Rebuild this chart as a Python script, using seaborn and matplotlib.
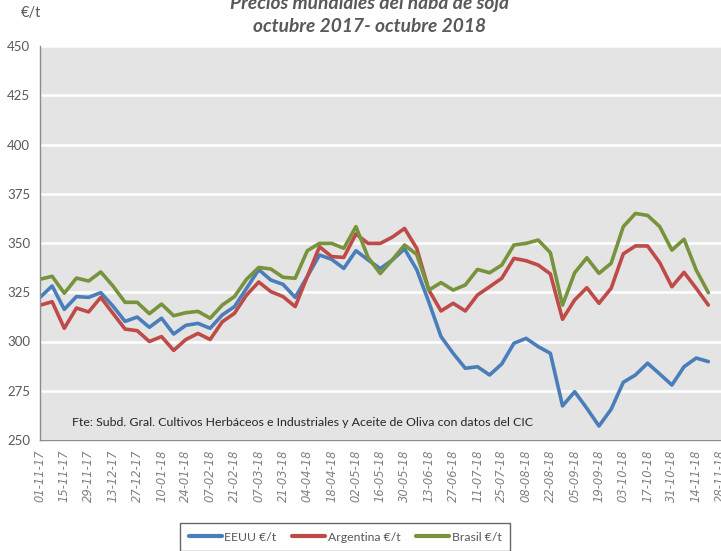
import numpy as np
import pandas as pd
import matplotlib
matplotlib.use("Agg")
import matplotlib.pyplot as plt
import matplotlib.dates as mdates
import seaborn as sns

# Weekly quotations (€/t), from 01-11-2017 to 21-11-2018
start_date = "2017-11-01"
n_weeks = 56

eeuu = [322.4, 328.2, 316.3, 322.8, 322.4, 324.8, 318.0, 310.2, 312.4, 307.2,
        311.8, 303.8, 308.2, 309.2, 306.7, 313.5, 317.7, 327.0, 336.5, 331.2,
        329.0, 322.4, 333.0, 343.9, 341.7, 337.1, 346.1, 341.4, 337.0, 341.4,
        347.0, 336.5, 320.0, 302.5, 294.0, 286.4, 287.2, 283.0, 288.6, 299.1,
        301.6, 297.4, 294.0, 267.3, 274.5, 266.1, 257.1, 265.6, 279.3, 283.0,
        289.0, 283.5, 277.9, 287.2, 291.6, 289.8]

argentina = [318.4, 320.2, 306.7, 317.0, 315.0, 322.4, 314.3, 306.3, 305.5, 300.0,
             302.5, 295.5, 301.0, 304.1, 301.0, 310.0, 314.3, 323.6, 330.2, 325.3,
             322.8, 317.7, 333.0, 348.1, 343.1, 342.7, 354.6, 349.8, 349.8, 353.0,
             357.4, 347.3, 326.1, 315.5, 319.4, 315.5, 323.6, 327.8, 332.1, 342.2,
             341.0, 338.8, 334.3, 311.3, 321.1, 327.3, 319.4, 327.0, 344.5, 348.5,
             348.5, 340.0, 327.8, 335.1, 327.0, 318.5]

brasil = [331.6, 333.1, 324.5, 332.2, 330.7, 335.3, 328.2, 319.9, 319.9, 314.1,
          319.0, 313.1, 314.6, 315.3, 311.8, 318.5, 322.8, 331.6, 337.6, 336.8,
          332.6, 332.1, 346.1, 349.8, 349.8, 347.3, 358.3, 342.7, 334.5, 341.5,
          349.0, 344.2, 326.1, 329.9, 326.1, 328.7, 336.6, 334.9, 338.8, 349.0,
          349.8, 351.5, 345.1, 318.5, 334.9, 342.5, 334.6, 339.7, 358.3, 365.0,
          364.0, 358.3, 346.4, 351.9, 336.3, 324.8]

series_names = ["EEUU €/t", "Argentina €/t", "Brasil €/t"]
series_colors = ["#4A7EBB", "#BE4B48", "#77933C"]

dates = pd.date_range(start_date, periods=n_weeks, freq="7D")
df = pd.DataFrame({"fecha": dates,
                   series_names[0]: eeuu,
                   series_names[1]: argentina,
                   series_names[2]: brasil})
long_df = df.melt(id_vars="fecha", var_name="serie", value_name="precio")

sns.set_style("white")
plt.rcParams["font.family"] = ["Lato", "DejaVu Sans"]

fig = plt.figure(figsize=(7.21, 5.51), dpi=100)
ax = fig.add_axes([40 / 721, 1 - 440 / 551, 680.5 / 721, 394 / 551])
ax.set_facecolor("#E4E4E4")

sns.lineplot(data=long_df, x="fecha", y="precio", hue="serie",
             palette=dict(zip(series_names, series_colors)),
             linewidth=2.6, ax=ax, legend=False)

# axes
ax.set_ylim(250, 450)
ax.set_yticks(np.arange(250, 451, 25))
ax.set_xlim(pd.Timestamp("2017-11-01"), pd.Timestamp("2018-11-28"))
tick_dates = pd.date_range("2017-11-01", "2018-11-28", freq="14D")
ax.set_xticks(tick_dates)
ax.xaxis.set_major_formatter(mdates.DateFormatter("%d-%m-%y"))
ax.set_xlabel("")
ax.set_ylabel("")

ax.grid(axis="y", color="white", linewidth=1.8)
ax.grid(axis="x", visible=False)
ax.set_axisbelow(True)
for side in ["top", "right"]:
    ax.spines[side].set_visible(False)
for side in ["left", "bottom"]:
    ax.spines[side].set_color("#8C8C8C")
    ax.spines[side].set_linewidth(1.0)

ax.tick_params(axis="x", which="major", direction="out", length=5, width=1,
               color="#8C8C8C", pad=2)
ax.tick_params(axis="y", which="major", direction="out", length=4, width=1,
               color="#8C8C8C", pad=3, labelsize=9.5, labelcolor="#595959")
for lbl in ax.get_xticklabels():
    lbl.set_rotation(90)
    lbl.set_fontfamily("DejaVu Sans")
    lbl.set_fontstyle("italic")
    lbl.set_fontsize(8.3)
    lbl.set_color("#808080")
    lbl.set_ha("center")
    lbl.set_va("top")

# title and unit
fig.text(0.513, 1 - 3 / 551, "Precios mundiales del haba de soja",
         ha="center", va="center", fontsize=13.8, fontstyle="italic",
         fontweight="bold", color="#595959")
fig.text(0.513, 1 - 27 / 551, "octubre 2017- octubre 2018",
         ha="center", va="center", fontsize=13.8, fontstyle="italic",
         fontweight="bold", color="#595959")
fig.text(31 / 721, 1 - 13 / 551, "€/t", ha="center", va="center",
         fontsize=10.5, color="#595959")

# source note
ax.text(32 / 680.5, 18 / 394,
        "Fte: Subd. Gral. Cultivos Herbáceos e Industriales y Aceite de Oliva con datos del CIC",
        transform=ax.transAxes, ha="left", va="center", fontsize=8.9,
        color="#262626")

# legend
handles = [plt.Line2D([], [], color=c, linewidth=3) for c in series_colors]
leg = fig.legend(handles, series_names, ncol=3, loc="upper center",
                 bbox_to_anchor=(345 / 721, 1 - 523 / 551), frameon=True,
                 fancybox=False, edgecolor="#404040", fontsize=8.8,
                 handlelength=2.7, handletextpad=0.2, columnspacing=1.3,
                 borderpad=0.7, borderaxespad=0)
leg.get_frame().set_linewidth(1.0)
for t in leg.get_texts():
    t.set_color("#595959")

fig.savefig("out.png", dpi=100)
